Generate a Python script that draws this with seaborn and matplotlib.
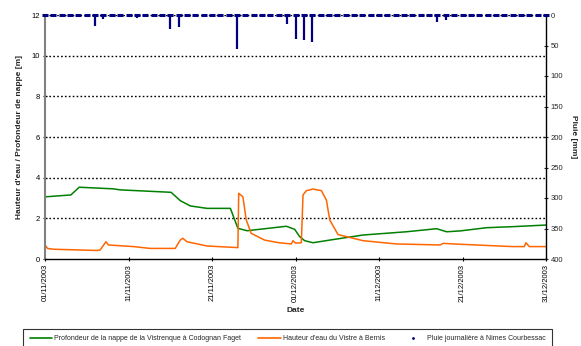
import numpy as np
import pandas as pd
import matplotlib
matplotlib.use("Agg")
import matplotlib.pyplot as plt
import matplotlib.dates as mdates
from matplotlib.lines import Line2D
import seaborn as sns

sns.set_theme(style="white")
plt.rcParams['font.family'] = ['Liberation Sans', 'DejaVu Sans']

start = pd.Timestamp("2003-11-01")

# Groundwater depth (Codognan Faget) - day offset from 01/11/2003, value [m]
nappe_days = [0.1, 3.1, 4.1, 8.2, 9.0, 15.1, 16.2, 17.4, 19.4, 22.2, 23.1, 24.2,
              28.9, 29.3, 29.9, 30.5, 31.1, 32.1, 34.1, 38.1, 43.3, 46.9, 48.1,
              49.7, 52.9, 56.0, 60.0]
nappe_vals = [3.06, 3.15, 3.53, 3.45, 3.40, 3.28, 2.87, 2.61, 2.49, 2.49, 1.51, 1.39,
              1.61, 1.55, 1.46, 1.10, 0.90, 0.80, 0.93, 1.18, 1.34, 1.49, 1.34,
              1.38, 1.54, 1.59, 1.67]

# River level (Vistre a Bernis)
vistre_days = [0.0, 0.1, 0.3, 1.0, 6.2, 6.6, 7.3, 7.6, 10.6, 12.6, 15.6, 16.0, 16.2,
               16.5, 17.0, 19.4, 23.1, 23.2, 23.7, 24.1, 24.7, 26.3, 28.0, 29.5, 29.7,
               30.0, 30.7, 30.9, 31.3, 32.1, 33.1, 33.7, 34.1, 34.9, 35.1, 38.1,
               42.1, 47.3, 47.7, 48.9, 56.0, 57.4, 57.6, 58.0, 60.0]
vistre_vals = [0.55, 0.64, 0.52, 0.48, 0.42, 0.44, 0.85, 0.69, 0.61, 0.52, 0.52, 0.80, 0.93,
               1.02, 0.85, 0.64, 0.56, 3.23, 3.06, 1.92, 1.26, 0.93, 0.80, 0.74, 0.90,
               0.78, 0.80, 3.15, 3.36, 3.44, 3.36, 2.90, 1.92, 1.34, 1.20, 0.90,
               0.74, 0.69, 0.77, 0.74, 0.61, 0.61, 0.80, 0.61, 0.61]

# Daily rain at Nimes Courbessac [mm]
rain_days = list(range(0, 61))
rain_vals = [0] * 61
for d, v in [(6, 18), (7, 7), (11, 5), (14, 3), (15, 23), (16, 19), (23, 55),
             (29, 15), (30, 40), (31, 41), (32, 45), (33, 3), (47, 11), (48, 9)]:
    rain_vals[d] = v

xticks_days = [0, 10, 20, 30, 40, 50, 60]

nappe = pd.DataFrame({"date": start + pd.to_timedelta(nappe_days, unit="D"), "val": nappe_vals})
vistre = pd.DataFrame({"date": start + pd.to_timedelta(vistre_days, unit="D"), "val": vistre_vals})
rain = pd.DataFrame({"date": start + pd.to_timedelta(rain_days, unit="D"), "val": rain_vals})
rain["base"] = 0

fig = plt.figure(figsize=(5.81, 3.46), dpi=100)
ax = fig.add_axes([45/581, 1-259/346, (546-45)/581, (259-15)/346])

green = "#008000"
orange = "#FF6600"
navy = "#000080"

sns.lineplot(data=nappe, x="date", y="val", ax=ax, color=green, linewidth=1.1)
sns.lineplot(data=vistre, x="date", y="val", ax=ax, color=orange, linewidth=1.1)

ax.set_ylim(0, 12)
ax.set_yticks(range(0, 13, 2))
ax.set_xlim(start, start + pd.Timedelta(days=60))
for yv in range(2, 13, 2):
    ax.axhline(yv, color="black", linestyle=(0, (1.2, 1.6)), linewidth=1.0, zorder=0)

ax.set_xticks([start + pd.Timedelta(days=d) for d in xticks_days])
ax.xaxis.set_major_formatter(mdates.DateFormatter("%d/%m/%Y"))
for lab in ax.get_xticklabels():
    lab.set_rotation(90)

ax.tick_params(axis="both", labelsize=5.5, length=3, width=0.8, direction="inout",
               colors="black", pad=2)
ax.tick_params(axis="y", left=True)
ax.tick_params(axis="x", bottom=True)
ax.set_xlabel("Date", fontsize=6, fontweight="bold", labelpad=4)
ax.set_ylabel("Hauteur d'eau / Profondeur de nappe [m]", fontsize=6, fontweight="bold", labelpad=6)

for s in ["top", "right"]:
    ax.spines[s].set_visible(False)
ax.spines["left"].set_color("#808080")
ax.spines["left"].set_linewidth(1.5)
ax.spines["bottom"].set_color("black")
ax.spines["bottom"].set_linewidth(1.0)

ax2 = ax.twinx()
ax2.set_ylim(400, 0)
ax2.set_yticks(range(0, 401, 50))
ax2.vlines(rain["date"], rain["base"], rain["val"], color=navy, linewidth=1.6, zorder=3)
sns.scatterplot(data=rain, x="date", y="base", ax=ax2, marker="_", s=22, color=navy,
                linewidth=2.2, zorder=4, clip_on=False)
ax2.set_ylabel("Pluie [mm]", fontsize=6, fontweight="bold", rotation=270, labelpad=10)
ax2.tick_params(axis="y", labelsize=5.5, length=3, width=0.8, direction="inout", right=True, pad=2)
for s in ["top", "left", "bottom"]:
    ax2.spines[s].set_visible(False)
ax2.spines["right"].set_color("black")
ax2.spines["right"].set_linewidth(1.0)
ax2.set_xlim(start, start + pd.Timedelta(days=60))
ax2.set_xlabel("")
ax2.grid(False)
ax.grid(False)

handles = [
    Line2D([0], [0], color=green, linewidth=1.2),
    Line2D([0], [0], color=orange, linewidth=1.2),
    Line2D([0], [0], color=navy, marker=".", markersize=2, linestyle="none"),
]
labels = ["Profondeur de la nappe de la Vistrenque à Codognan Faget",
          "Hauteur d'eau du Vistre à Bernis",
          "Pluie journalière à Nimes Courbessac"]
leg = fig.legend(handles, labels, loc="lower left", bbox_to_anchor=(20/581, -6/346, 535/581, 25/346),
                 mode="expand", ncol=3, fontsize=5, frameon=True, fancybox=False,
                 handlelength=3.2, handletextpad=0.3, borderpad=0.9, columnspacing=1.5)
leg.get_frame().set_edgecolor("black")
leg.get_frame().set_linewidth(0.8)

fig.savefig("out.png", dpi=100)
